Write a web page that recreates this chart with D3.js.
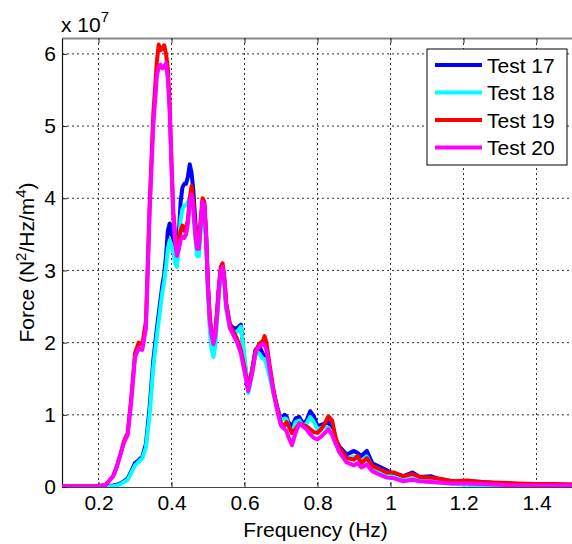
<!DOCTYPE html>
<html>
<head>
<meta charset="utf-8">
<script src="https://cdn.jsdelivr.net/npm/d3@7"></script>
<style>
  body { margin: 0; background: #fff; }
  text { font-family: "Liberation Sans", Arial, sans-serif; fill: #000; }
</style>
</head>
<body>
<script>
// frequency grid (Hz), shared by all four tests
var freq = [0.10,0.15,0.20,0.22,0.24,
  0.25,0.26,0.27,0.28,0.29,0.30,0.31,0.32,0.33,0.34,0.35,0.36,
  0.365,0.37,0.375,0.38,0.385,0.39,0.395,0.40,0.405,0.41,0.415,0.42,0.425,0.43,0.435,0.44,0.445,0.45,
  0.455,0.46,0.465,0.47,0.475,0.48,0.485,0.49,0.495,0.50,0.505,0.51,0.515,0.52,0.525,0.53,0.535,0.54,0.545,
  0.55,0.56,0.57,0.58,0.59,0.60,0.61,0.62,0.63,0.64,0.65,0.655,0.66,0.67,0.68,0.69,0.70,0.71,0.715,
  0.72,0.73,0.74,0.75,0.76,0.77,0.78,0.79,0.80,0.81,0.82,0.83,0.84,0.85,0.86,
  0.88,0.90,0.91,0.92,0.935,0.95,0.97,0.99,
  1.01,1.035,1.06,1.08,1.11,1.14,1.17,1.21,1.25,1.30,1.35,1.40,1.45,1.50];

// force spectra, in units of 1e7 N^2/Hz/m^4
var test17 = [0.01,0.01,0.01,0.01,0.02,
  0.03,0.05,0.08,0.12,0.22,0.33,0.37,0.42,0.6,1.1,1.75,2.2,
  2.4,2.6,2.8,2.95,3.2,3.55,3.65,3.5,3.45,3.25,3.2,3.5,3.95,4.15,4.2,4.2,4.3,4.47,
  4.35,4.1,3.7,3.35,3.35,3.65,3.95,3.9,3.45,2.75,2.3,2.05,1.9,2.05,2.4,2.75,3.0,3.05,2.85,
  2.5,2.25,2.2,2.2,2.25,1.75,1.35,1.6,1.9,1.95,1.85,1.82,1.75,1.55,1.3,1.1,0.94,1.0,0.98,
  0.9,0.84,0.95,0.97,0.88,0.92,1.05,0.98,0.84,0.86,0.88,0.9,0.8,0.65,0.56,
  0.45,0.5,0.47,0.43,0.5,0.33,0.28,0.23,
  0.18,0.15,0.2,0.14,0.15,0.1,0.08,0.08,0.07,0.05,0.04,0.03,0.03,0.03];

var test18 = [0.01,0.01,0.01,0.01,0.01,
  0.02,0.04,0.07,0.1,0.2,0.3,0.35,0.4,0.55,1.0,1.65,2.1,
  2.3,2.5,2.7,2.85,3.05,3.3,3.42,3.35,3.25,3.1,3.05,3.3,3.7,3.85,3.9,3.9,3.95,4.0,
  4.03,3.8,3.45,3.2,3.2,3.55,3.85,3.8,3.35,2.65,2.15,1.9,1.8,1.95,2.3,2.65,2.95,3.0,2.8,
  2.45,2.2,2.15,2.15,2.22,1.8,1.3,1.55,1.85,1.85,1.78,1.77,1.7,1.5,1.28,1.08,0.92,0.95,0.94,
  0.85,0.75,0.9,0.92,0.85,0.88,0.97,0.9,0.8,0.82,0.83,0.82,0.74,0.6,0.5,
  0.4,0.42,0.4,0.36,0.42,0.27,0.22,0.17,
  0.14,0.1,0.12,0.09,0.08,0.06,0.04,0.03,0.02,0.02,0.02,0.02,0.02,0.02];

var test19 = [0.01,0.01,0.01,0.03,0.15,
  0.28,0.45,0.64,0.75,1.25,1.85,2.0,1.97,2.3,3.9,5.15,5.9,
  6.13,6.05,6.07,6.12,6.0,5.8,5.3,4.5,3.8,3.5,3.25,3.4,3.55,3.62,3.55,3.6,3.7,4.0,
  4.17,3.95,3.6,3.35,3.35,3.7,4.0,3.95,3.5,2.8,2.35,2.15,2.02,2.15,2.45,2.8,3.05,3.1,2.9,
  2.55,2.25,2.15,2.05,1.9,1.65,1.37,1.58,1.88,1.98,2.02,2.09,2.0,1.65,1.33,1.08,0.88,0.85,0.9,
  0.86,0.75,0.8,0.88,0.86,0.84,0.8,0.76,0.75,0.8,0.88,0.98,0.92,0.68,0.54,
  0.4,0.38,0.43,0.33,0.4,0.29,0.25,0.2,
  0.2,0.15,0.18,0.14,0.13,0.11,0.08,0.09,0.07,0.06,0.05,0.04,0.04,0.035];

var test20 = [0.01,0.01,0.01,0.03,0.15,
  0.28,0.45,0.62,0.72,1.2,1.8,1.92,1.9,2.2,3.8,5.0,5.7,
  5.82,5.85,5.8,5.82,5.87,5.65,5.2,4.45,3.75,3.4,3.2,3.3,3.42,3.47,3.45,3.5,3.65,3.95,
  4.05,3.85,3.5,3.3,3.3,3.65,3.95,3.9,3.45,2.75,2.3,2.1,1.98,2.1,2.4,2.75,3.0,3.05,2.85,
  2.5,2.2,2.1,2.0,1.85,1.6,1.33,1.55,1.85,1.95,1.98,1.97,1.9,1.6,1.3,1.05,0.85,0.8,0.78,
  0.7,0.58,0.75,0.88,0.84,0.8,0.73,0.68,0.66,0.7,0.75,0.8,0.72,0.6,0.48,
  0.34,0.3,0.33,0.27,0.31,0.22,0.17,0.13,
  0.12,0.08,0.1,0.08,0.07,0.06,0.05,0.05,0.04,0.03,0.02,0.02,0.02,0.02];

var seriesNames = ["Test 17", "Test 18", "Test 19", "Test 20"];
var seriesValues = [test17, test18, test19, test20];
var seriesColors = ["#0000ff", "#00ffff", "#ff0000", "#ff00ff"];

var xTicks = [0.2, 0.4, 0.6, 0.8, 1.0, 1.2, 1.4];
var yTicks = [0, 1, 2, 3, 4, 5, 6];

//chart geometry
var W = 572, H = 544;
var margin = { top: 38, left: 62 };
var plotW = 511, plotH = 449;

var x = d3.scaleLinear().domain([0.1, 1.5]).range([0, plotW]);
var y = d3.scaleLinear().domain([0, 6.22]).range([plotH, 0]);

var svg = d3.select("body").append("svg")
    .attr("width", W)
    .attr("height", H);

svg.append("defs").append("clipPath").attr("id", "plotClip")
    .append("rect").attr("x", 0).attr("y", 0).attr("width", plotW).attr("height", plotH);

var g = svg.append("g")
    .attr("transform", "translate(" + margin.left + "," + margin.top + ")");

//grid lines
g.append("g").attr("class", "gridV")
    .selectAll("line").data(xTicks).enter().append("line")
    .attr("x1", d => x(d)).attr("x2", d => x(d))
    .attr("y1", 0).attr("y2", plotH)
    .attr("stroke", "#333").attr("stroke-width", 1)
    .attr("stroke-dasharray", "2,3");

g.append("g").attr("class", "gridH")
    .selectAll("line").data(yTicks.filter(d => d > 0)).enter().append("line")
    .attr("x1", 0).attr("x2", plotW)
    .attr("y1", d => y(d)).attr("y2", d => y(d))
    .attr("stroke", "#333").attr("stroke-width", 1)
    .attr("stroke-dasharray", "2,3");

//axes, MATLAB style with ticks pointing inward
var xAxis = g.append("g")
    .attr("transform", "translate(0," + plotH + ")")
    .call(d3.axisBottom(x).tickValues(xTicks).tickSizeInner(-5).tickSizeOuter(0)
        .tickPadding(8).tickFormat(d3.format("~g")));
var xAxisTop = g.append("g")
    .call(d3.axisTop(x).tickValues(xTicks).tickSizeInner(-5).tickSizeOuter(0).tickFormat(""));
var yAxis = g.append("g")
    .call(d3.axisLeft(y).tickValues(yTicks).tickSizeInner(-5).tickSizeOuter(0)
        .tickPadding(6).tickFormat(d3.format("d")));

[xAxis, xAxisTop, yAxis].forEach(function (a) {
    a.selectAll("text").style("font-size", "21px").attr("fill", "#000");
    a.selectAll(".tick line").attr("stroke", "#222");
});
xAxis.select(".domain").attr("stroke", "#444").attr("stroke-width", 1.2);
xAxisTop.select(".domain").attr("stroke", "#888").attr("stroke-width", 2);
yAxis.select(".domain").attr("stroke", "#111").attr("stroke-width", 1.2);

//spectra
var line = d3.line()
    .x((d, i) => x(freq[i]))
    .y(d => y(d));

g.append("g").attr("clip-path", "url(#plotClip)")
    .selectAll("path").data(seriesValues).enter().append("path")
    .attr("d", d => line(d))
    .attr("fill", "none")
    .attr("stroke", (d, i) => seriesColors[i])
    .attr("stroke-width", 4)
    .attr("stroke-linejoin", "round")
    .attr("stroke-linecap", "round");

//exponent label
var expo = svg.append("text").attr("x", 61).attr("y", 32).style("font-size", "21px");
expo.append("tspan").text("x 10");
expo.append("tspan").attr("dy", -10).style("font-size", "15px").text("7");

//axis labels
svg.append("text")
    .attr("x", margin.left + plotW / 2 - 2).attr("y", 537)
    .attr("text-anchor", "middle").style("font-size", "21px")
    .text("Frequency (Hz)");

var yl = svg.append("text")
    .attr("transform", "translate(34," + (margin.top + plotH / 2) + ") rotate(-90)")
    .attr("text-anchor", "middle").style("font-size", "21px");
yl.append("tspan").text("Force (N");
yl.append("tspan").attr("dy", -8).style("font-size", "15px").text("2");
yl.append("tspan").attr("dy", 8).text("/Hz/m");
yl.append("tspan").attr("dy", -8).style("font-size", "15px").text("4");
yl.append("tspan").attr("dy", 8).text(")");

//legend
var legend = svg.append("g").attr("transform", "translate(427,49)");
legend.append("rect")
    .attr("width", 140).attr("height", 116)
    .attr("fill", "#fff").attr("stroke", "#000").attr("stroke-width", 1);
var rows = legend.selectAll("g.row").data(seriesNames).enter().append("g")
    .attr("class", "row")
    .attr("transform", (d, i) => "translate(0," + (16 + i * 27.5) + ")");
rows.append("line")
    .attr("x1", 8).attr("x2", 55)
    .attr("stroke", (d, i) => seriesColors[i])
    .attr("stroke-width", 4);
rows.append("text")
    .attr("x", 60).attr("y", 7.5)
    .style("font-size", "21px")
    .text(d => d);
</script>
</body>
</html>
